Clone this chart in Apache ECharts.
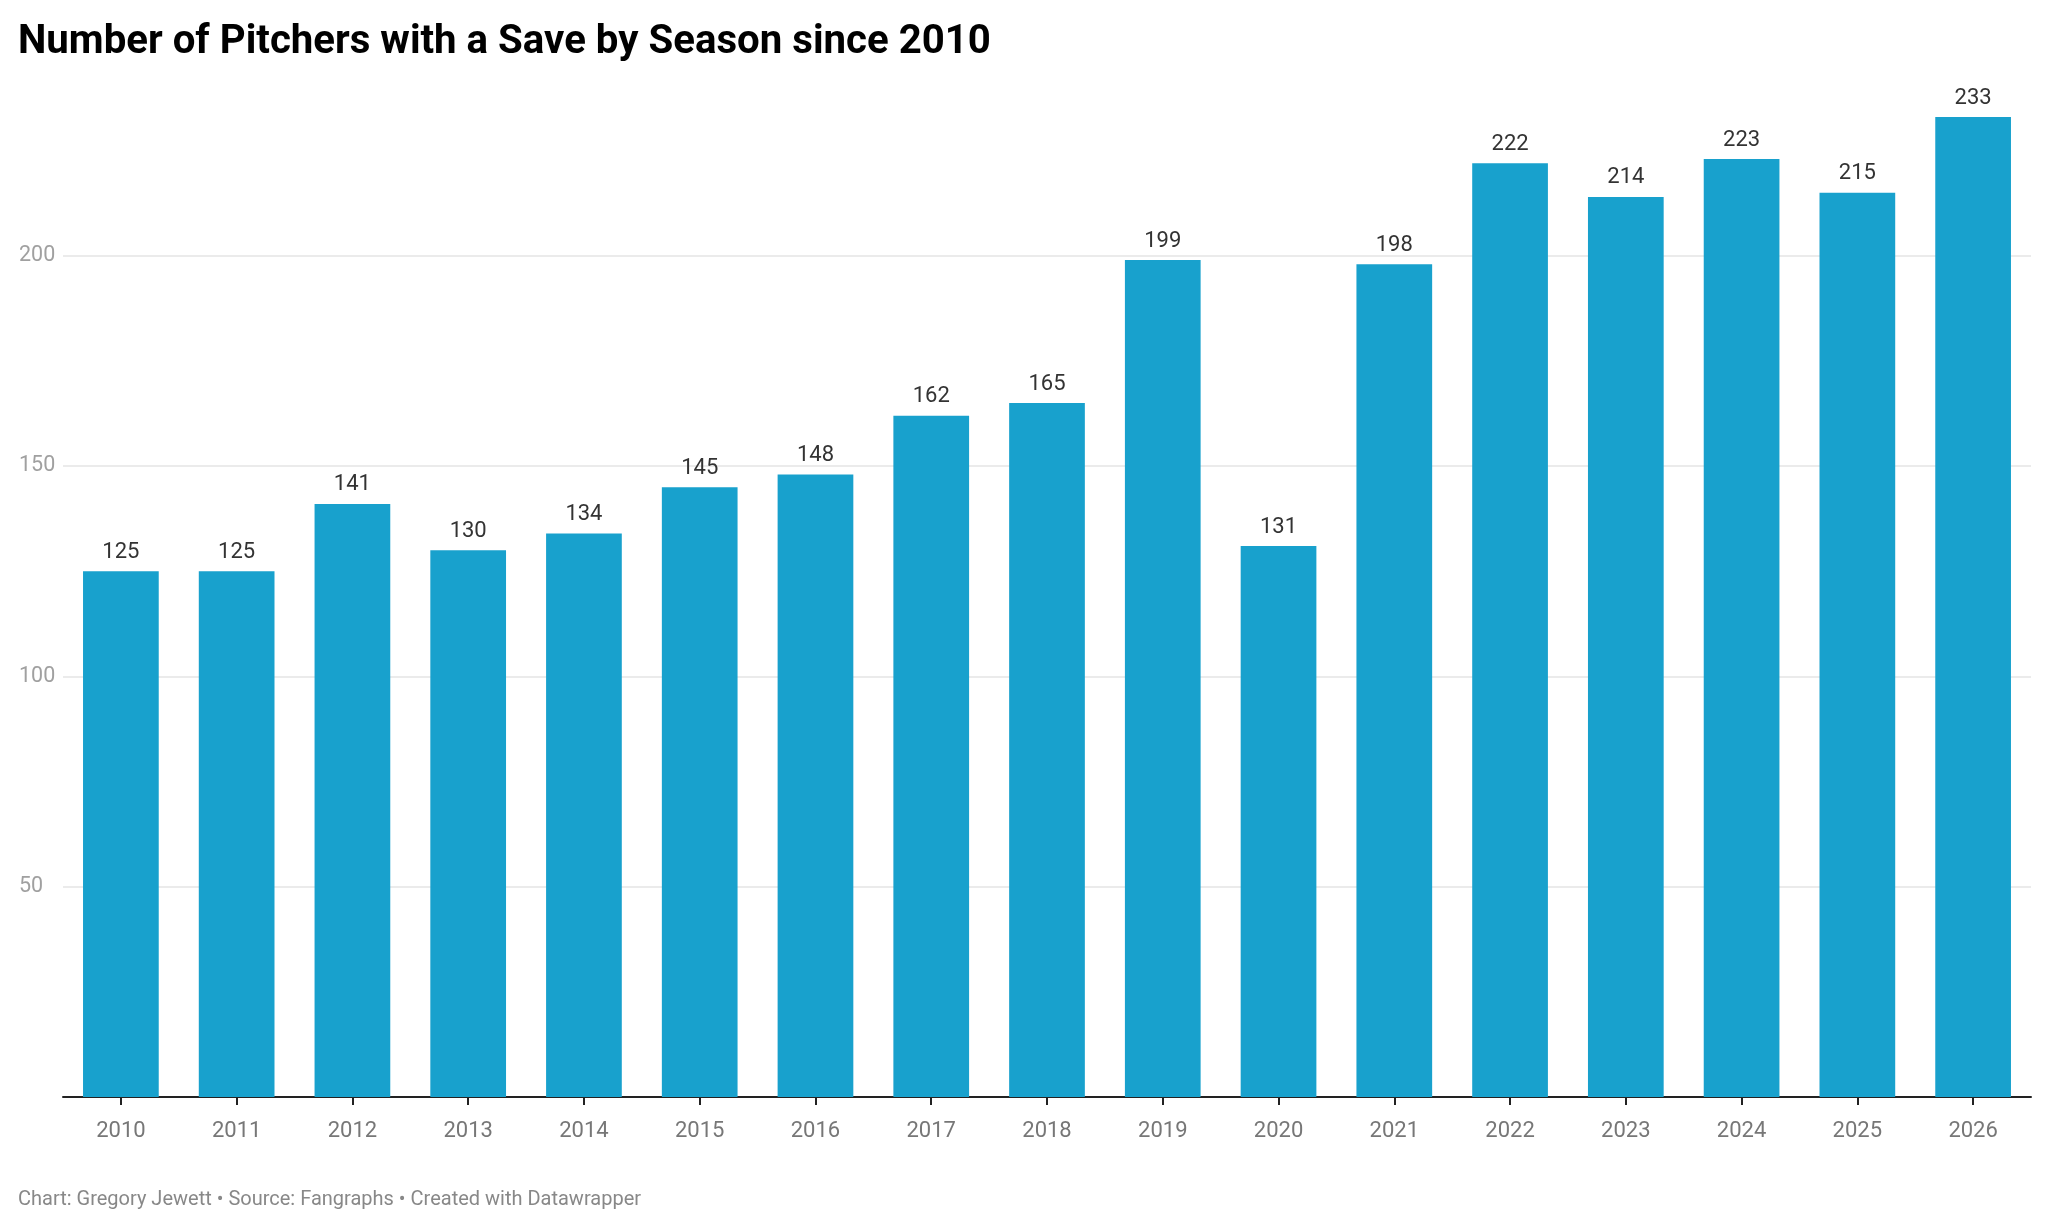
<!DOCTYPE html>
<html>
<head>
<meta charset="utf-8">
<script src="https://cdn.jsdelivr.net/npm/echarts@6/dist/echarts.min.js"></script>
<style>
html,body{margin:0;padding:0;background:#fff;}
#chart{width:2048px;height:1228px;}
</style>
</head>
<body>
<div id="chart"></div>
<script>
const seasons = ['2010','2011','2012','2013','2014','2015','2016','2017','2018','2019','2020','2021','2022','2023','2024','2025','2026'];
const pitchersWithSave = [125,125,141,130,134,145,148,162,165,199,131,198,222,214,223,215,233];
const yTicks = [0,50,100,150,200,250];

const chart = echarts.init(document.getElementById('chart'), null, {renderer:'canvas'});
chart.setOption({
  backgroundColor:'#ffffff',
  animation:false,
  textStyle:{fontFamily:'Roboto'},
  title:[
    {text:'Number of Pitchers with a Save by Season since 2010', left:18, top:23, padding:0,
     textStyle:{fontFamily:'Roboto', fontWeight:'bold', fontSize:40.2, color:'#000'}},
    {text:'Chart: Gregory Jewett • Source: Fangraphs • Created with Datawrapper', left:18, top:1190, padding:0,
     textStyle:{fontFamily:'Roboto', fontWeight:'normal', fontSize:20, color:'#888'}}
  ],
  grid:{left:63, right:17, top:45.5, bottom:131},
  xAxis:{
    type:'category', data:seasons,
    axisLine:{show:true, lineStyle:{color:'#222', width:2}},
    axisTick:{show:true, alignWithLabel:true, length:8, lineStyle:{color:'#222', width:2}},
    axisLabel:{color:'#777', fontSize:22, margin:23.5, fontFamily:'Roboto'}
  },
  yAxis:{
    type:'value', min:yTicks[0], max:yTicks[yTicks.length-1], interval:50,
    axisLine:{show:false}, axisTick:{show:false},
    axisLabel:{color:'#a0a0a0', fontSize:21.5, align:'left', margin:44, showMinLabel:false, showMaxLabel:false, fontFamily:'Roboto'},
    splitLine:{show:true, showMinLine:false, showMaxLine:false, lineStyle:{color:'#e5e5e5', width:1.5}}
  },
  series:[{
    type:'bar', data:pitchersWithSave, barWidth:'65.4%',
    itemStyle:{color:'#18a1cd'},
    label:{show:true, position:'top', distance:8, color:'#333', fontSize:22, fontFamily:'Roboto'}
  }]
});
</script>
</body>
</html>
